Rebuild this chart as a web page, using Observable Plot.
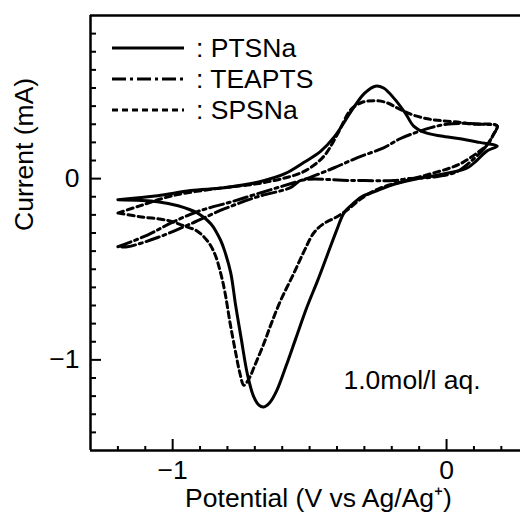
<!DOCTYPE html>
<html><head><meta charset="utf-8">
<script src="https://cdn.jsdelivr.net/npm/d3@7"></script>
<script src="https://cdn.jsdelivr.net/npm/@observablehq/plot@0.6"></script>
<style>
body{margin:0;background:#fff;}
#wrap{position:relative;width:522px;height:521px;}
#legend{position:absolute;left:0;top:0;pointer-events:none;}
</style></head><body><div id="wrap"></div>
<script>
// ---- data (potential V vs Ag/Ag+, current mA), in scan order ----
const seriesNames = ["PTSNa", "TEAPTS", "SPSNa"];

const ptsnaV = [-1.2, -1.055, -0.935, -0.81, -0.69, -0.59, -0.52, -0.46, -0.41, -0.34, -0.30, -0.26, -0.23, -0.19, -0.15, -0.12, -0.08, -0.02, 0.05, 0.12, 0.185,
  0.15, 0.11, 0.077, 0.02, -0.05, -0.12, -0.20, -0.26, -0.31, -0.35, -0.375, -0.40, -0.435, -0.47, -0.51, -0.55, -0.585, -0.62, -0.645, -0.668, -0.685, -0.705, -0.727, -0.75, -0.77, -0.788, -0.81, -0.825, -0.86, -0.91, -0.98, -1.055, -1.2];
const ptsnaI = [-0.116, -0.094, -0.066, -0.05, -0.02, 0.027, 0.09, 0.15, 0.23, 0.39, 0.47, 0.51, 0.50, 0.44, 0.36, 0.29, 0.255, 0.235, 0.22, 0.20, 0.18,
  0.155, 0.10, 0.06, 0.035, 0.015, -0.005, -0.035, -0.07, -0.10, -0.15, -0.19, -0.28, -0.42, -0.56, -0.71, -0.88, -1.03, -1.17, -1.235, -1.26, -1.25, -1.20, -1.08, -0.88, -0.70, -0.52, -0.40, -0.34, -0.25, -0.19, -0.15, -0.127, -0.116];

const teaptsV = [-1.2, -1.09, -1.0, -0.9, -0.79, -0.69, -0.57, -0.5, -0.41, -0.325, -0.23, -0.17, -0.12, -0.06, 0.0, 0.07, 0.13, 0.185,
  0.17, 0.14, 0.10, 0.04, -0.04, -0.14, -0.19, -0.35, -0.53, -0.57, -0.69, -0.81, -0.935, -1.055, -1.165, -1.2];
const teaptsI = [-0.376, -0.31, -0.24, -0.177, -0.13, -0.083, -0.028, 0.006, 0.06, 0.116, 0.17, 0.22, 0.25, 0.28, 0.30, 0.305, 0.30, 0.29,
  0.24, 0.17, 0.11, 0.04, 0.01, 0.0, -0.01, -0.01, -0.01, -0.05, -0.10, -0.166, -0.25, -0.325, -0.376, -0.376];

const spsnaV = [-1.2, -1.12, -1.0, -0.84, -0.7, -0.6, -0.52, -0.45, -0.40, -0.35, -0.31, -0.265, -0.22, -0.18, -0.13, -0.07, -0.02, 0.05, 0.10, 0.17, 0.185,
  0.17, 0.15, 0.11, 0.06, 0.015, -0.05, -0.11, -0.17, -0.23, -0.28, -0.32, -0.36, -0.40, -0.45, -0.485, -0.52, -0.56, -0.605, -0.64, -0.667, -0.70, -0.72, -0.74, -0.755, -0.77, -0.79, -0.81, -0.825, -0.845, -0.87, -0.91, -0.96, -1.02, -1.12, -1.2];
const spsnaI = [-0.19, -0.15, -0.094, -0.055, -0.03, 0.0, 0.04, 0.12, 0.24, 0.38, 0.42, 0.43, 0.42, 0.39, 0.355, 0.33, 0.32, 0.31, 0.30, 0.30, 0.29,
  0.24, 0.19, 0.14, 0.09, 0.06, 0.03, 0.005, -0.02, -0.045, -0.08, -0.12, -0.17, -0.21, -0.25, -0.30, -0.40, -0.53, -0.67, -0.80, -0.91, -1.03, -1.10, -1.14, -1.07, -0.96, -0.80, -0.62, -0.52, -0.42, -0.35, -0.29, -0.26, -0.23, -0.21, -0.19];

const annotationText = ["1.0mol/l aq."];
const xTitle = ["Potential (V vs Ag/Ag\u207A)"];
const yTitle = ["Current (mA)"];
const xDomain = [-1.3, 0.27];
const yDomain = [-1.5, 0.9];
const xMajorTicks = [-1, 0];
const yMajorTicks = [-1, 0];
const xMinorTicks = [-1.2, -1.1, -0.9, -0.8, -0.7, -0.6, -0.5, -0.4, -0.3, -0.2, -0.1, 0.1, 0.2];
const yMinorTicks = [-1.4, -1.3, -1.2, -1.1, -0.9, -0.8, -0.7, -0.6, -0.5, -0.4, -0.3, -0.2, -0.1, 0.1, 0.2, 0.3, 0.4, 0.5, 0.6, 0.7, 0.8];

// ---- build tables ----
function rows(name, V, I) { return V.map((v, i) => ({series: name, V: v, I: I[i], k: i})); }
const ptsna = rows(seriesNames[0], ptsnaV, ptsnaI);
const teapts = rows(seriesNames[1], teaptsV, teaptsI);
const spsna = rows(seriesNames[2], spsnaV, spsnaI);

const dashes = {PTSNa: null, TEAPTS: "14,4,3,4", SPSNa: "6,4"};
const FONT = "'Liberation Sans', Arial, Helvetica, sans-serif";
const FS = 26.5;
const fmt = d => d === 0 ? "0" : (d < 0 ? "\u2212" : "") + Math.abs(d);

const W = 522, H = 521, mt = 15, mb = 71, ml = 90, mr = 2;
const plotH = H - mt - mb, plotW = W - ml - mr;

const chart = Plot.plot({
  width: W, height: H,
  marginTop: mt, marginBottom: mb, marginLeft: ml, marginRight: mr,
  style: {fontFamily: FONT, fontSize: FS + "px", color: "#000", background: "#fff"},
  x: {domain: xDomain},
  y: {domain: yDomain},
  marks: [
    // inward ticks: a top axis shifted down to the bottom edge, a right axis shifted to the left edge
    Plot.axisX({anchor: "top", ticks: xMinorTicks, tickSize: 5, strokeWidth: 2, tickFormat: () => "", label: null, dy: plotH}),
    Plot.axisX({anchor: "top", ticks: xMajorTicks, tickSize: 12, strokeWidth: 2, tickFormat: () => "", label: null, dy: plotH}),
    Plot.axisX({anchor: "bottom", ticks: xMajorTicks, tickSize: 0, tickPadding: 10, fontSize: FS, tickFormat: fmt, label: null}),
    Plot.axisY({anchor: "right", ticks: yMinorTicks, tickSize: 5, strokeWidth: 2, tickFormat: () => "", label: null, dx: -plotW}),
    Plot.axisY({anchor: "right", ticks: yMajorTicks, tickSize: 10, strokeWidth: 2, tickFormat: () => "", label: null, dx: -plotW}),
    Plot.axisY({anchor: "left", ticks: yMajorTicks, tickSize: 0, tickPadding: 11, fontSize: FS, tickFormat: fmt, label: null}),
    Plot.ruleX([xDomain[0]], {strokeWidth: 2.5}),
    Plot.ruleY([yDomain[0]], {strokeWidth: 2.5}),
    Plot.ruleY([yDomain[1]], {strokeWidth: 2.5}),
    Plot.line(ptsna, {x: "V", y: "I", stroke: "#000", strokeWidth: 3, curve: "catmull-rom"}),
    Plot.line(teapts, {x: "V", y: "I", stroke: "#000", strokeWidth: 3, strokeDasharray: dashes.TEAPTS, curve: "catmull-rom"}),
    Plot.line(spsna, {x: "V", y: "I", stroke: "#000", strokeWidth: 3, strokeDasharray: dashes.SPSNa, curve: "catmull-rom"}),
    Plot.text(annotationText, {frameAnchor: "bottom-left", dx: 253, dy: -70, textAnchor: "start", lineAnchor: "middle", fontSize: FS, fill: "#000"}),
    Plot.text(xTitle, {frameAnchor: "bottom", dx: 13, dy: 48, lineAnchor: "middle", fontSize: FS, fill: "#000"}),
    Plot.text(yTitle, {frameAnchor: "left", dx: -66, dy: -2, rotate: -90, lineAnchor: "middle", fontSize: FS, fill: "#000"})
  ]
});
const wrap = document.getElementById("wrap");
wrap.appendChild(chart);

// ---- legend overlay ----
const leg = d3.select(wrap).append("svg").attr("id", "legend").attr("width", W).attr("height", H);
seriesNames.forEach((name, i) => {
  const yLine = [48, 79, 110][i];
  leg.append("line").attr("x1", 112).attr("x2", 184).attr("y1", yLine).attr("y2", yLine)
    .attr("stroke", "#000").attr("stroke-width", 3)
    .attr("stroke-dasharray", dashes[name]);
  leg.append("text").attr("x", 196).attr("y", yLine + 9)
    .attr("font-family", FONT).attr("font-size", FS).attr("fill", "#000")
    .text(": " + name);
});
</script></body></html>
